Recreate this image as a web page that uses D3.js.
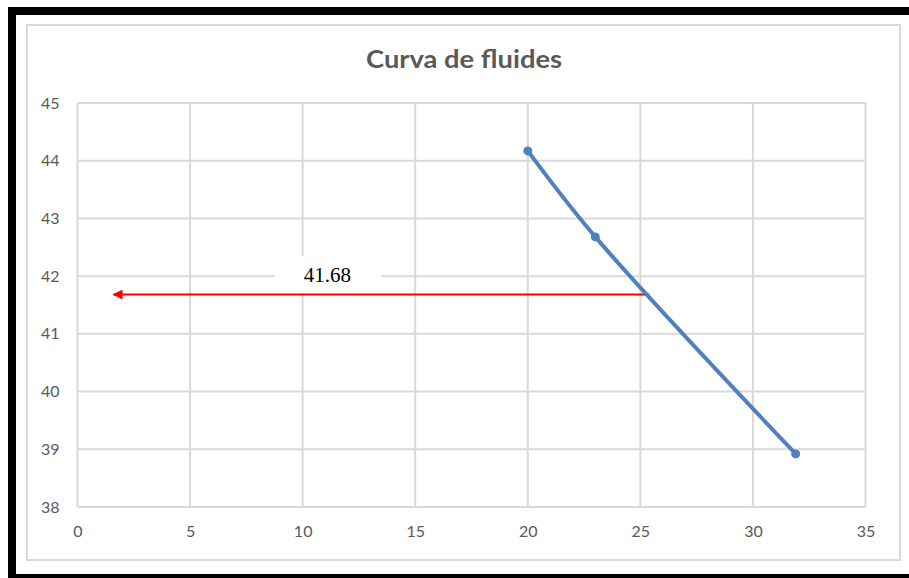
<!DOCTYPE html>
<html>
<head>
<meta charset="utf-8">
<script src="https://cdn.jsdelivr.net/npm/d3@7"></script>
<style>
  html, body { margin: 0; padding: 0; background: #ffffff; overflow: hidden; }
  svg { display: block; }
</style>
</head>
<body>
<svg id="chart" width="909" height="578"></svg>
<script>
// Fluid curve: measured points
const xValues = [20, 23, 31.9];
const yValues = [44.17, 42.68, 38.92];

// Axis ticks
const xTicks = [0, 5, 10, 15, 20, 25, 30, 35];
const yTicks = [38, 39, 40, 41, 42, 43, 44, 45];

// Read-off marker: horizontal arrow at the reported value
const markerValue = 41.68;
const markerLabel = "41.68";
const arrowFromX = 25.4;
const arrowToX = 1.6;

const chartTitle = "Curva de fluides";

const svg = d3.select("#chart");

// black frame (top, left, bottom bands)
const frame = svg.append("g").attr("fill", "#000");
frame.append("rect").attr("x", 8).attr("y", 7).attr("width", 901).attr("height", 8);
frame.append("rect").attr("x", 8).attr("y", 7).attr("width", 8).attr("height", 571);
frame.append("rect").attr("x", 8).attr("y", 574).attr("width", 901).attr("height", 4);

// chart area border
svg.append("rect")
  .attr("x", 27).attr("y", 25)
  .attr("width", 873).attr("height", 535)
  .attr("fill", "#fff").attr("stroke", "#d9d9d9").attr("stroke-width", 2);

const x = d3.scaleLinear().domain([0, 35]).range([77.5, 865.5]);
const y = d3.scaleLinear().domain([38, 45]).range([507, 103]);

// gridlines
const grid = svg.append("g").attr("stroke", "#d9d9d9").attr("stroke-width", 2);
grid.selectAll("line.h").data(yTicks).join("line")
  .attr("class", "h")
  .attr("x1", x(0)).attr("x2", x(35))
  .attr("y1", d => y(d)).attr("y2", d => y(d));
grid.selectAll("line.v").data(xTicks).join("line")
  .attr("class", "v")
  .attr("y1", y(38)).attr("y2", y(45))
  .attr("x1", d => x(d)).attr("x2", d => x(d));

// axes labels via d3 axes (domain and tick marks hidden)
const tickFont = "Lato, 'Open Sans', sans-serif";
const yAxis = svg.append("g")
  .attr("transform", `translate(${x(0) - 6},0)`)
  .call(d3.axisLeft(y).tickValues(yTicks).tickSize(0).tickPadding(12).tickFormat(d3.format("d")));
const xAxis = svg.append("g")
  .attr("transform", `translate(0,${y(38) + 10})`)
  .call(d3.axisBottom(x).tickValues(xTicks).tickSize(0).tickPadding(9).tickFormat(d3.format("d")));
[yAxis, xAxis].forEach(a => {
  a.select(".domain").remove();
  a.selectAll("text")
    .attr("fill", "#595959")
    .style("font-family", tickFont)
    .style("font-size", "16px");
});

// title
svg.append("text")
  .attr("x", 464).attr("y", 68)
  .attr("text-anchor", "middle")
  .attr("fill", "#595959")
  .style("font-family", tickFont)
  .style("font-weight", "bold")
  .style("font-size", "25px")
  .attr("textLength", 196)
  .attr("lengthAdjust", "spacingAndGlyphs")
  .text(chartTitle);

// label box with value
const labelX = x(11.1);
svg.append("rect")
  .attr("x", labelX - 53).attr("y", 256)
  .attr("width", 107).attr("height", 37)
  .attr("fill", "#fff");
svg.append("text")
  .attr("x", labelX).attr("y", 282)
  .attr("text-anchor", "middle")
  .attr("fill", "#000")
  .style("font-family", "'Liberation Serif', 'Times New Roman', serif")
  .style("font-size", "21px")
  .text(markerLabel);

// red arrow pointing toward the y axis
const defs = svg.append("defs");
defs.append("marker")
  .attr("id", "arrowhead")
  .attr("viewBox", "0 0 10 10")
  .attr("refX", 9).attr("refY", 5)
  .attr("markerWidth", 6).attr("markerHeight", 5)
  .attr("orient", "auto")
  .attr("markerUnits", "strokeWidth")
  .append("path").attr("d", "M0,0 L10,5 L0,10 Z").attr("fill", "#ff0000");
svg.append("line")
  .attr("x1", x(arrowFromX)).attr("x2", x(arrowToX))
  .attr("y1", y(markerValue)).attr("y2", y(markerValue))
  .attr("stroke", "#ff0000").attr("stroke-width", 2)
  .attr("marker-end", "url(#arrowhead)");

// smoothed series line and markers
const pts = xValues.map((v, i) => [v, yValues[i]]);
const line = d3.line().x(d => x(d[0])).y(d => y(d[1])).curve(d3.curveCatmullRom.alpha(0.5));
svg.append("path")
  .datum(pts)
  .attr("d", line)
  .attr("fill", "none")
  .attr("stroke", "#4f81bd")
  .attr("stroke-width", 4)
  .attr("stroke-linecap", "round");
svg.selectAll("circle.pt").data(pts).join("circle")
  .attr("class", "pt")
  .attr("cx", d => x(d[0])).attr("cy", d => y(d[1]))
  .attr("r", 4.5)
  .attr("fill", "#4f81bd");
</script>
</body>
</html>
